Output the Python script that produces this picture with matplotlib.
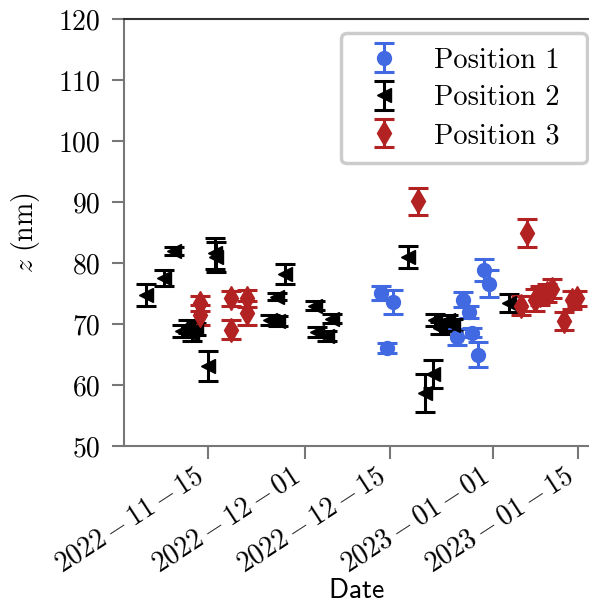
import matplotlib
matplotlib.use('Agg')
import matplotlib.pyplot as plt
import matplotlib.dates as mdates
import numpy as np
import pandas as pd

plt.rcParams['mathtext.fontset'] = 'cm'
plt.rcParams['font.family'] = ['cmr10', 'DejaVu Serif']
plt.rcParams['axes.unicode_minus'] = False
plt.rcParams['font.size'] = 20

# Position 1 (blue circles)
dates_p1 = ['2022-12-13 10:00', '2022-12-14 12:00', '2022-12-15 12:00', '2022-12-26 00:00',
            '2022-12-27 00:00', '2022-12-27 22:00', '2022-12-28 10:00', '2022-12-29 10:00',
            '2022-12-30 10:00', '2022-12-31 07:00']
z_p1 = [75.1, 66.1, 73.6, 67.9, 74.0, 72.0, 68.6, 65.0, 78.9, 76.6]
err_p1 = [1.2, 0.8, 2.0, 1.3, 1.2, 1.0, 0.8, 2.0, 1.8, 2.2]

# Position 2 (black triangles)
dates_p2 = ['2022-11-04 18:00', '2022-11-07 19:00', '2022-11-09 11:00', '2022-11-10 16:00',
            '2022-11-11 17:00', '2022-11-12 07:00', '2022-11-13 02:00', '2022-11-15 00:00',
            '2022-11-16 04:00', '2022-11-16 07:00', '2022-11-25 05:00', '2022-11-26 07:00',
            '2022-11-26 12:00', '2022-11-27 17:00', '2022-12-02 14:00', '2022-12-02 22:00',
            '2022-12-04 13:00', '2022-12-05 10:00', '2022-12-18 00:00', '2022-12-20 18:00',
            '2022-12-22 02:00', '2022-12-22 10:00', '2022-12-23 05:00', '2022-12-24 12:00',
            '2022-12-25 10:00', '2023-01-03 12:00']
z_p2 = [74.7, 77.5, 82.0, 68.8, 69.6, 68.4, 69.2, 63.1, 81.6, 81.0, 70.6, 74.5, 70.5, 78.2,
        73.0, 68.7, 68.0, 70.9, 81.0, 58.7, 61.8, 70.6, 69.3, 70.6, 69.8, 73.4]
err_p2 = [1.8, 1.3, 0.7, 1.0, 1.0, 1.2, 1.0, 2.4, 2.5, 2.5, 0.8, 0.6, 0.8, 1.7,
          0.7, 0.8, 0.8, 0.8, 1.8, 3.1, 2.3, 1.0, 1.0, 0.9, 1.0, 1.5]

# Position 3 (red diamonds)
dates_p3 = ['2022-11-13 17:00', '2022-11-13 17:00', '2022-11-18 19:00', '2022-11-18 19:00',
            '2022-11-21 12:00', '2022-11-21 12:00', '2022-12-19 14:00', '2023-01-05 12:00',
            '2023-01-06 12:00', '2023-01-07 22:00', '2023-01-08 17:00', '2023-01-09 19:00',
            '2023-01-10 14:00', '2023-01-12 16:00', '2023-01-13 22:00', '2023-01-14 17:00']
z_p3 = [73.4, 71.5, 74.2, 69.1, 74.2, 71.8, 90.1, 73.0, 84.9, 73.9, 74.7, 75.1, 75.8,
        70.5, 73.9, 74.2]
err_p3 = [1.2, 1.6, 1.2, 1.6, 1.4, 1.9, 2.2, 1.6, 2.3, 1.8, 1.5, 1.5, 1.5, 1.4, 1.5, 1.2]

labels = ['Position 1', 'Position 2', 'Position 3']
colors = ['royalblue', 'black', 'firebrick']
markers = ['o', '<', 'd']
msizes = [10, 10, 12]

fig = plt.figure(figsize=(5.89, 6.12), dpi=100)
ax = fig.add_axes([0.2105, 0.2712, 0.7895, 0.6977])

series = [(dates_p1, z_p1, err_p1), (dates_p2, z_p2, err_p2), (dates_p3, z_p3, err_p3)]
for (d, z, e), lab, c, m, ms in zip(series, labels, colors, markers, msizes):
    ax.errorbar(pd.to_datetime(d), z, yerr=e, fmt=m, color=c, ms=ms,
                elinewidth=2.2, capsize=7, capthick=2.2, label=lab)

ax.set_xlim(pd.Timestamp('2022-11-01 04:00'), pd.Timestamp('2023-01-16 18:00'))
ax.set_ylim(50, 120)
ax.set_yticks(np.arange(50, 121, 10))
ax.xaxis.set_major_locator(mdates.DayLocator(bymonthday=[1, 15]))
ax.xaxis.set_major_formatter(mdates.DateFormatter(r'$%Y\,{-}\,%m\,{-}\,%d$'))
for lbl in ax.get_xticklabels():
    lbl.set_rotation(33)
    lbl.set_ha('right')

for s in ['left', 'bottom']:
    ax.spines[s].set_color('#777777')
    ax.spines[s].set_linewidth(1.5)
ax.spines['top'].set_color('#333333')
ax.spines['top'].set_linewidth(1.5)
ax.spines['right'].set_visible(False)
ax.tick_params(axis='both', direction='out', length=9, width=1.5, color='#777777',
               labelsize=20, pad=8)
ax.tick_params(axis='x', pad=3)

ax.set_xlabel(r'$\mathsf{Date}$', fontsize=20, labelpad=0)
ax.set_ylabel(r'$z\ \mathrm{(nm)}$', fontsize=20, labelpad=12)

# box stretched to the given width, entries stay left
leg = ax.legend(loc='upper left', bbox_to_anchor=(0.4667, 0.967, 0.529, 0), mode='expand',
                borderaxespad=0, fontsize=20.5, handletextpad=0.75, borderpad=0.5,
                labelspacing=0.4, fancybox=True, framealpha=1)
leg.get_frame().set_edgecolor('#cccccc')
leg.get_frame().set_linewidth(2.5)

fig.savefig('out.png', dpi=100)
